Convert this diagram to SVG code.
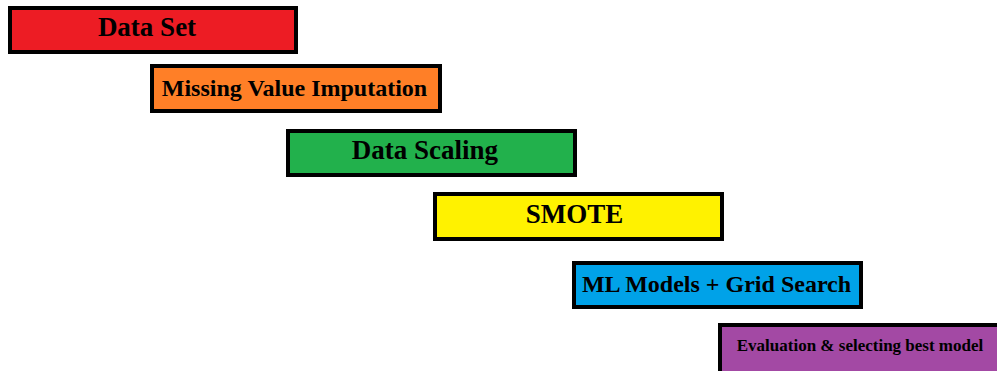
<svg xmlns="http://www.w3.org/2000/svg" width="997" height="371" viewBox="0 0 997 371">
<style>
.box{stroke:#000;stroke-width:4}
.t{font-family:"Liberation Serif","Times New Roman",serif;font-weight:bold;fill:#000;text-anchor:middle}
</style>
<rect width="997" height="371" fill="#fff"/>
<g id="connectors"></g>
<g id="n1">
<rect class="box" x="10" y="8" width="286" height="44" fill="#ED1C24"/>
<text class="t" x="147" y="36" font-size="27">Data Set</text>
</g>
<g id="n2">
<rect class="box" x="152" y="66" width="288" height="45" fill="#FF7F27"/>
<text class="t" x="294.5" y="96" font-size="24">Missing Value Imputation</text>
</g>
<g id="n3">
<rect class="box" x="288" y="131" width="287" height="44" fill="#22B14C"/>
<text class="t" x="425" y="159" font-size="27">Data Scaling</text>
</g>
<g id="n4">
<rect class="box" x="435" y="194" width="287" height="45" fill="#FFF200"/>
<text class="t" x="574.5" y="223" font-size="27">SMOTE</text>
</g>
<g id="n5">
<rect class="box" x="574" y="263" width="287" height="44" fill="#00A2E8"/>
<text class="t" x="716.5" y="292" font-size="24">ML Models + Grid Search</text>
</g>
<g id="n6">
<rect class="box" x="720" y="325" width="290" height="50" fill="#A349A4"/>
<text class="t" x="860" y="351" font-size="17">Evaluation &amp; selecting best model</text>
</g>
</svg>
